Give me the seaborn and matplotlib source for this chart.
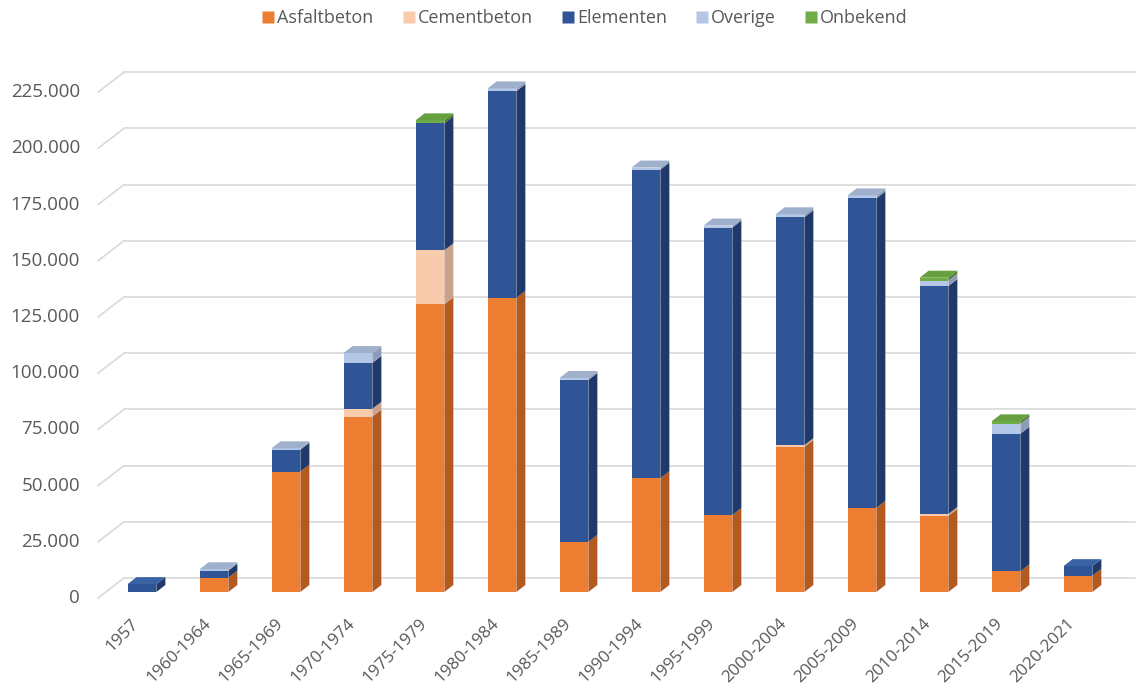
import matplotlib
matplotlib.use("Agg")
import matplotlib.pyplot as plt
import matplotlib.transforms as mtransforms
from matplotlib.patches import Polygon
from matplotlib.lines import Line2D
import numpy as np
import seaborn as sns

categories = ['1957', '1960-1964', '1965-1969', '1970-1974', '1975-1979', '1980-1984',
              '1985-1989', '1990-1994', '1995-1999', '2000-2004', '2005-2009',
              '2010-2014', '2015-2019', '2020-2021']
asfaltbeton = [0, 6400, 53600, 78000, 128000, 130800, 22300, 50600, 34200, 64500, 37400, 33900, 9200, 7200]
cementbeton = [0, 0, 0, 3500, 24000, 0, 0, 0, 0, 800, 0, 800, 0, 0]
elementen = [3500, 3100, 9700, 20400, 56500, 92000, 72000, 137300, 127900, 101400, 137700, 101400, 61200, 4300]
overige = [0, 600, 600, 4400, 0, 1200, 900, 900, 900, 1300, 1300, 2400, 4400, 0]
onbekend = [0, 0, 0, 0, 1300, 0, 0, 0, 0, 0, 0, 1300, 1100, 0]
series_names = ['Asfaltbeton', 'Cementbeton', 'Elementen', 'Overige', 'Onbekend']
yticks = [0, 25000, 50000, 75000, 100000, 125000, 150000, 175000, 200000, 225000]

front_colors = ['#ED7D31', '#F8CBAD', '#2F5597', '#B4C7E7', '#70AD47']
side_colors = ['#B25A1F', '#C9A28B', '#1F3A6A', '#8D9DB9', '#4E7A32']
top_colors = ['#F08A45', '#F3C2A2', '#3A62A6', '#9FB0CD', '#66A03E']

sns.set_theme(style='white')
plt.rcParams['font.family'] = ['Open Sans', 'DejaVu Sans']
text_color = '#595959'

fig = plt.figure(figsize=(11.37, 6.90), dpi=100)
W, H = 1137, 690
ax = fig.add_axes([100 / W, 98 / H, 1036 / W, 532 / H])

data = np.array([asfaltbeton, cementbeton, elementen, overige, onbekend], dtype=float)
cum = np.cumsum(data, axis=0)

# front faces: cumulative layers, drawn from top layer down
for k in range(len(series_names) - 1, -1, -1):
    sns.barplot(x=categories, y=cum[k], order=categories, color=front_colors[k],
                saturation=1, width=0.40, linewidth=0, edgecolor='none', ax=ax, zorder=3)

ax.set_xlim(-0.583, 13.806)
ax.set_ylim(0, 236650)
for s in ax.spines.values():
    s.set_visible(False)
ax.set_yticks([])
ax.set_xticks(range(len(categories)))
ax.set_xticklabels(categories, rotation=45, ha='right', va='top', rotation_mode='anchor',
                   fontsize=12.3, color=text_color)
ax.tick_params(axis='x', length=0, pad=14)
shift = mtransforms.ScaledTranslation(-0.11, -0.04, fig.dpi_scale_trans)
for lab in ax.get_xticklabels():
    lab.set_transform(lab.get_transform() + shift)
ax.set_xlabel('')
ax.set_ylabel('')

fig.canvas.draw()
ident = mtransforms.IdentityTransform()

# gridlines with perspective
up = mtransforms.ScaledTranslation(0, 0.14, fig.dpi_scale_trans)
for v in yticks:
    ax.plot([-0.25, 13.79], [v, v], color='#d9d9d9', lw=1.2, transform=ax.transData + up,
            clip_on=False, zorder=1)
    yd = ax.transData.transform((0, v))[1]
    fig.add_artist(Line2D([98, 124], [yd - 6, yd + 14], color='#d9d9d9', lw=1.2,
                          transform=ident, zorder=1))

# y tick labels
ytrans = mtransforms.blended_transform_factory(ax.transAxes, ax.transData) + \
    mtransforms.ScaledTranslation(0, -0.06, fig.dpi_scale_trans)
for v in yticks:
    ax.text(-0.0193, v, f"{v:,}".replace(',', '.'), transform=ytrans, ha='right', va='center',
            fontsize=13.5, color=text_color, clip_on=False)

# 3D side and top faces
dx, dy = 9, 7
half = 0.20
for i in range(len(categories)):
    xl = ax.transData.transform((i - half, 0))[0]
    xr = ax.transData.transform((i + half, 0))[0]
    top_k = None
    for k in range(len(series_names)):
        if data[k, i] <= 0:
            continue
        b = cum[k, i] - data[k, i]
        t = cum[k, i]
        yb = ax.transData.transform((0, b))[1]
        yt = ax.transData.transform((0, t))[1]
        fig.add_artist(Polygon([[xr, yb], [xr + dx, yb + dy], [xr + dx, yt + dy], [xr, yt]],
                               closed=True, facecolor=side_colors[k], edgecolor='none',
                               transform=ident, zorder=4))
        top_k = k
    if top_k is not None:
        yt = ax.transData.transform((0, cum[top_k, i]))[1]
        fig.add_artist(Polygon([[xl, yt], [xl + dx, yt + dy], [xr + dx, yt + dy], [xr, yt]],
                               closed=True, facecolor=top_colors[top_k], edgecolor='none',
                               transform=ident, zorder=4))

# legend
handles = [Line2D([], [], marker='s', linestyle='none', markersize=8,
                  markerfacecolor=c, markeredgecolor='none') for c in front_colors]
fig.legend(handles, series_names, loc='center', bbox_to_anchor=(584 / W, 1 - 18 / H),
           ncol=5, frameon=False, fontsize=13, labelcolor=text_color,
           handletextpad=0.05, columnspacing=1.5, handlelength=0.9)

fig.savefig('out.png', dpi=100, facecolor='white')
